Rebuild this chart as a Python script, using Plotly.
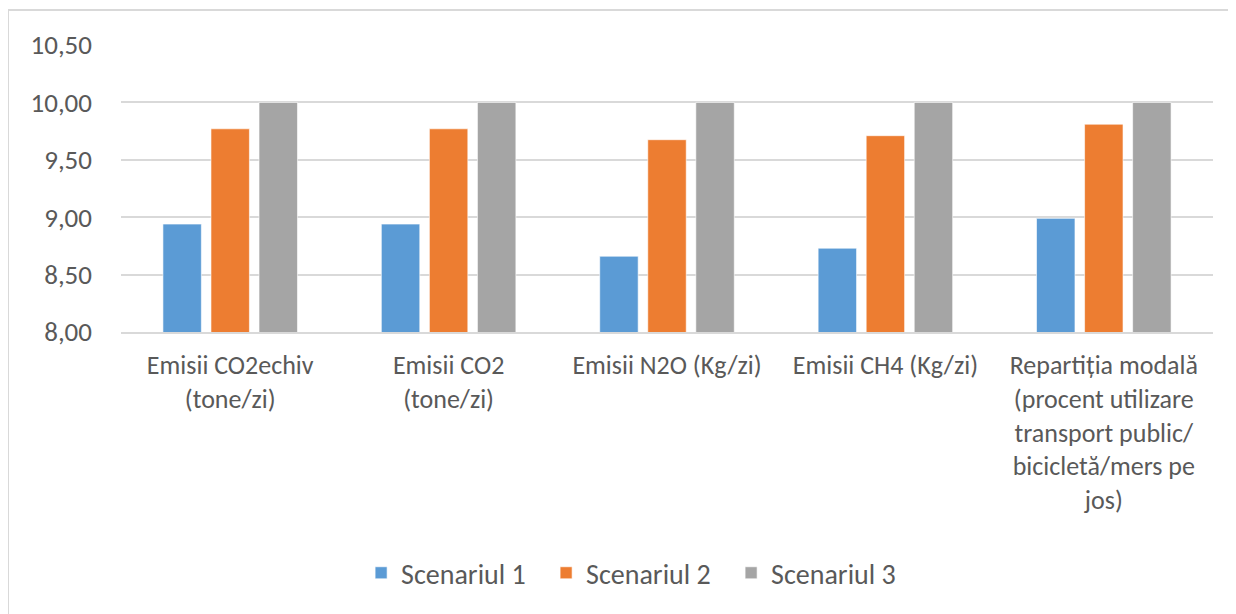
import plotly.graph_objects as go

categories = [
    "Emisii CO2echiv<br>(tone/zi)",
    "Emisii CO2<br>(tone/zi)",
    "Emisii N2O (Kg/zi)",
    "Emisii CH4 (Kg/zi)",
    "Repartiția modală<br>(procent utilizare<br>transport public/<br>bicicletă/mers pe<br>jos)",
]
series_names = ["Scenariul 1", "Scenariul 2", "Scenariul 3"]
scenariul_1 = [8.94, 8.94, 8.66, 8.73, 8.99]
scenariul_2 = [9.77, 9.77, 9.675, 9.71, 9.81]
scenariul_3 = [10.00, 10.00, 10.00, 10.00, 10.00]
colors = ["#5B9BD5", "#ED7D31", "#A5A5A5"]
tick_vals = [8.0, 8.5, 9.0, 9.5, 10.0, 10.5]
tick_text = ["8,00", "8,50", "9,00", "9,50", "10,00", "10,50"]

FONT = "Carlito, 'Liberation Sans Narrow', 'Open Sans', sans-serif"

fig = go.Figure()
for name, vals, col in zip(series_names, [scenariul_1, scenariul_2, scenariul_3], colors):
    fig.add_trace(go.Bar(
        x=categories, y=vals, name=name,
        marker=dict(color=col, line=dict(color="white", width=0.6)),
    ))

fig.update_layout(
    width=1228, height=606,
    margin=dict(l=113, r=23, t=37, b=282, pad=0),
    paper_bgcolor="white", plot_bgcolor="white",
    barmode="group", bargap=0.34, bargroupgap=0.2,
    font=dict(family=FONT, size=27, color="#595959"),
    showlegend=True,
    legend=dict(orientation="h", x=0.474, xanchor="center", y=-0.84, yanchor="middle",
                font=dict(size=28, color="#595959"), itemwidth=30, traceorder="normal",
                entrywidth=140, entrywidthmode="pixels"),
    xaxis=dict(showgrid=False, showline=True, linecolor="#d9d9d9", linewidth=1.5,
               ticks="", ticklabelstandoff=9, tickfont=dict(size=26, color="#595959")),
    yaxis=dict(range=[8.0, 10.5], tickvals=tick_vals, ticktext=tick_text,
               showgrid=True, gridcolor="#d9d9d9", gridwidth=1.5,
               zeroline=False, showline=False, ticks="", ticklabelstandoff=28,
               tickfont=dict(size=27, color="#595959")),
    shapes=[
        dict(type="line", xref="paper", yref="paper", x0=-0.1035, x1=1.2, y0=1.122, y1=1.122,
             line=dict(color="#d9d9d9", width=2)),
        dict(type="line", xref="paper", yref="paper", x0=-0.1035, x1=-0.1035, y0=-1.2, y1=1.122,
             line=dict(color="#d9d9d9", width=2)),
    ],
)

fig.write_html("out.html")
